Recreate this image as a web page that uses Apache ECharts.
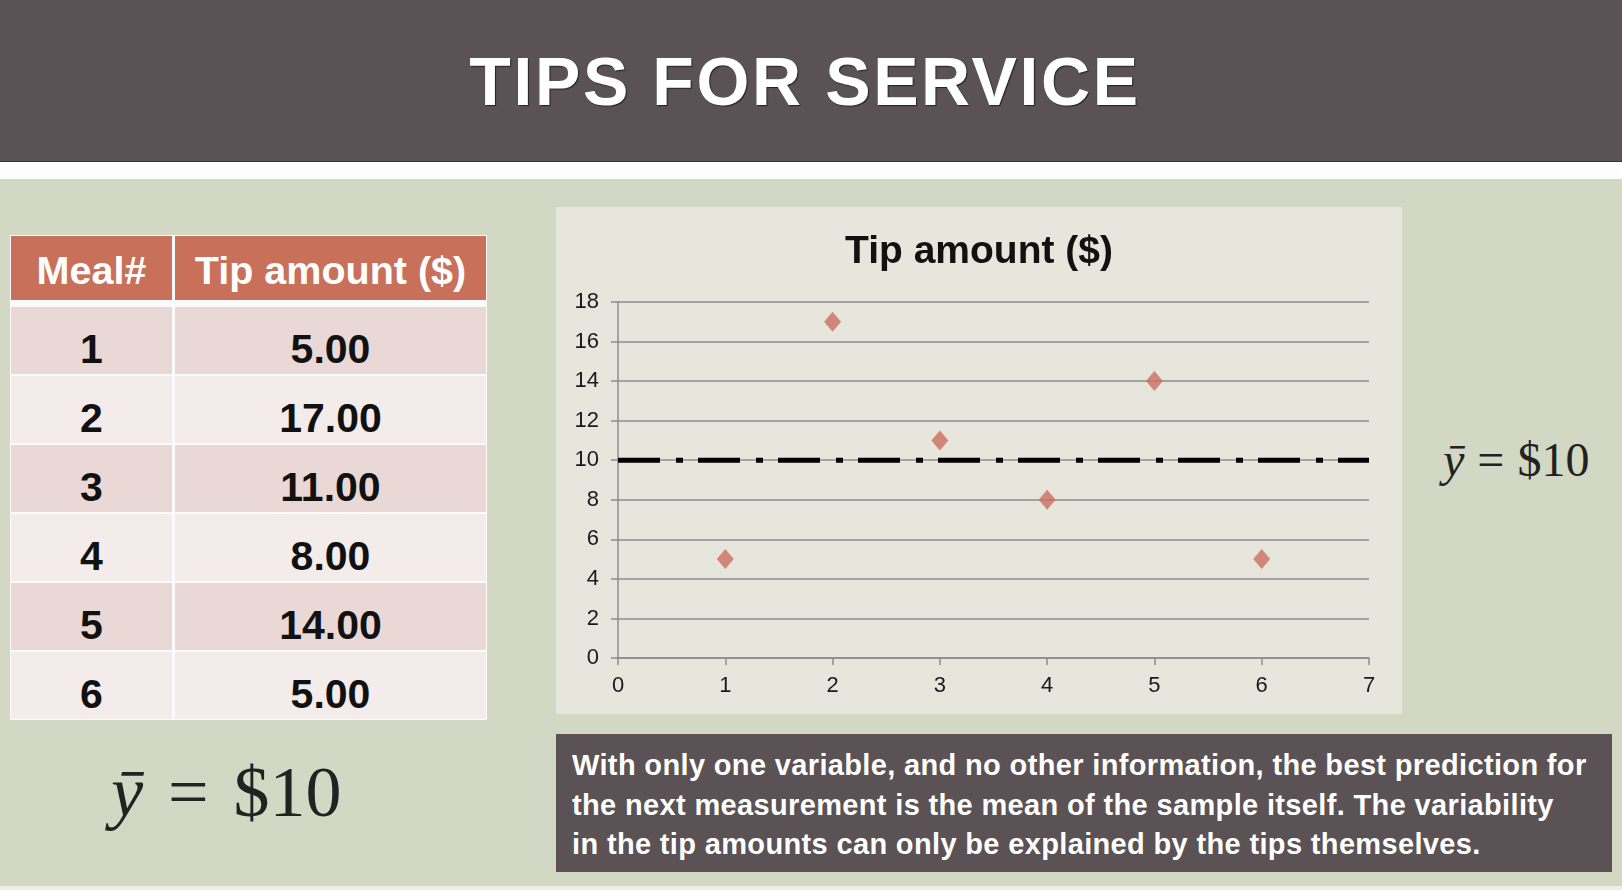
<!DOCTYPE html>
<html>
<head>
<meta charset="utf-8">
<script src="https://cdn.jsdelivr.net/npm/echarts@6/dist/echarts.min.js"></script>
<style>
  body { margin: 0; width: 1622px; height: 890px; overflow: hidden; background: #d3d8c4; font-family: "Liberation Sans", Arial, sans-serif; position: relative; }
  .abs { position: absolute; }
  #header { left: 0; top: 0; width: 1622px; height: 161px; background: #5a5254; border-bottom: 1px solid #3a3536; }
  #band { left: 0; top: 162px; width: 1622px; height: 17px; background: #fdfdfd; }
  #title { left: 0; top: 45px; width: 1610px; text-align: center; color: #fff; font-weight: bold; font-size: 68px; line-height: 72px; letter-spacing: 2.6px; text-shadow: 1px 1px 1px #222; }
  #table { left: 10px; top: 235px; width: 477px; height: 485px; background: #fbfbfb; }
  .cell { position: absolute; text-align: center; color: #111; font-weight: bold; }
  #chart { left: 556px; top: 207px; width: 846px; height: 507px; }
  .ybar { font-family: "Liberation Serif", "DejaVu Serif", serif; color: #222; white-space: pre; }
  #note { left: 556px; top: 734px; width: 1056px; height: 138px; background: #5a5254; }
  #noteText { left: 572px; top: 746px; color: #fff; font-weight: bold; font-size: 29px; line-height: 39.5px; letter-spacing: 0.35px; white-space: pre; }
  #foot { left: 0; top: 886px; width: 1622px; height: 4px; background: #eef0e8; }
</style>
</head>
<body>
<div id="header" class="abs"></div>
<div id="band" class="abs"></div>
<div id="title" class="abs">TIPS FOR SERVICE</div>
<div id="table" class="abs"></div>
<div id="chart" class="abs"></div>
<div class="abs ybar" style="left:1443px;top:432px;font-size:48px;line-height:56px;word-spacing:1px;"><i>ȳ</i> = $10</div>
<div class="abs ybar" style="left:111px;top:750px;font-size:72px;line-height:84px;word-spacing:7px;"><i>ȳ</i> = $10</div>
<div id="note" class="abs"></div>
<div id="noteText" class="abs"></div>
<div id="foot" class="abs"></div>
<script>
// data
var meals = [1, 2, 3, 4, 5, 6];
var tips = [5, 17, 11, 8, 14, 5];
var headers = ['Meal#', 'Tip amount ($)'];
var xTicks = [0, 7, 1];   // min, max, step
var yTicks = [0, 18, 2];
var noteLines = [
    'With only one variable, and no other information, the best prediction for',
    'the next measurement is the mean of the sample itself. The variability',
    'in the tip amounts can only be explained by the tips themselves.'
];

var mean = tips.reduce(function (a, b) { return a + b; }, 0) / tips.length;

// table
var table = document.getElementById('table');
function addCell(x, y, w, h, bg, text, color, size, dy) {
    var d = document.createElement('div');
    d.className = 'cell';
    d.style.left = x + 'px';
    d.style.top = y + 'px';
    d.style.width = w + 'px';
    d.style.height = h + 'px';
    d.style.background = bg;
    d.style.color = color;
    d.style.fontSize = size + 'px';
    d.style.lineHeight = (h + dy * 2) + 'px';
    d.textContent = text;
    table.appendChild(d);
}
addCell(1, 1, 161, 64, '#c8705a', headers[0], '#fff', 39.5, 2);
addCell(165, 1, 311, 64, '#c8705a', headers[1], '#fff', 39.5, 2);
for (var i = 0; i < meals.length; i++) {
    var rowBg = i % 2 === 0 ? '#e9d8d6' : '#f4eceb';
    var rowTop = 72 + i * 69;
    addCell(1, rowTop, 161, 67, rowBg, String(meals[i]), '#111', 41, 9);
    addCell(165, rowTop, 311, 67, rowBg, tips[i].toFixed(2), '#111', 41, 9);
}

document.getElementById('noteText').textContent = noteLines.join('\n');

// chart
var myChart = echarts.init(document.getElementById('chart'));
var meanLine = [[xTicks[0], mean], [xTicks[1], mean]];
var pts = meals.map(function (m, k) { return [m, tips[k]]; });

var option = {
    backgroundColor: '#e6e6dc',
    animation: false,
    title: {
        text: 'Tip amount ($)',
        left: 'center',
        top: 21,
        textStyle: { fontFamily: 'Liberation Sans', fontWeight: 'bold', fontSize: 39, color: '#111' }
    },
    grid: { left: 62, right: 33, top: 95, bottom: 56 },
    xAxis: {
        type: 'value',
        min: xTicks[0], max: xTicks[1], interval: xTicks[2],
        axisLine: { show: true, lineStyle: { color: '#8c8c8c', width: 1.5 } },
        axisTick: { show: true, length: 7, lineStyle: { color: '#8c8c8c', width: 1.5 } },
        axisLabel: { color: '#1a1a1a', fontSize: 22, margin: 17, fontFamily: 'Liberation Sans' },
        splitLine: { show: false }
    },
    yAxis: {
        type: 'value',
        min: yTicks[0], max: yTicks[1], interval: yTicks[2],
        axisLine: { show: true, lineStyle: { color: '#8c8c8c', width: 1.5 } },
        axisTick: { show: true, length: 7, lineStyle: { color: '#8c8c8c', width: 1.5 } },
        axisLabel: { color: '#1a1a1a', fontSize: 22, margin: 19, fontFamily: 'Liberation Sans' },
        splitLine: { show: true, lineStyle: { color: '#8c8c8c', width: 1.5 } }
    },
    series: [
        {
            name: 'mean',
            type: 'line',
            data: meanLine,
            symbol: 'none',
            z: 3,
            lineStyle: { color: '#000', width: 5, type: [42, 16, 7, 15] }
        },
        {
            name: 'tip',
            type: 'scatter',
            data: pts,
            symbol: 'diamond',
            symbolSize: [17, 20],
            z: 4,
            itemStyle: { color: '#cd6e5f' }
        }
    ]
};
myChart.setOption(option);
</script>
</body>
</html>
